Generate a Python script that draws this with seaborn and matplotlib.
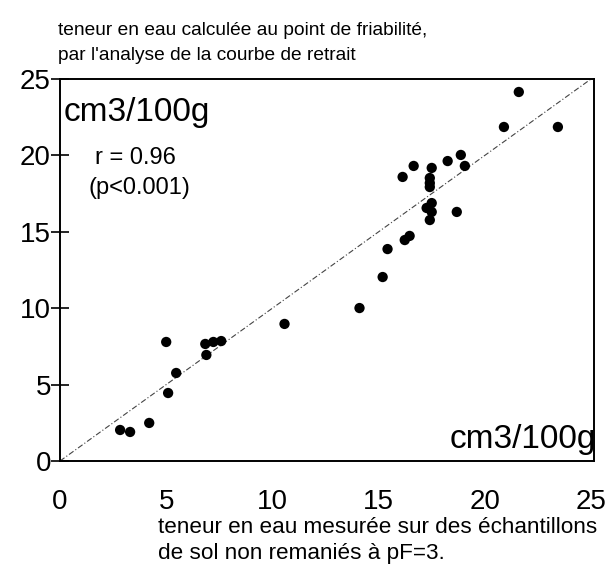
import matplotlib
matplotlib.use("Agg")
import matplotlib.pyplot as plt
import seaborn as sns
import pandas as pd

# measured water content at pF=3 (x) vs computed at friability point (y)
x_measured = [2.83, 3.30, 4.20, 5.09, 5.47, 5.00, 6.84, 7.22, 7.59, 6.89,
              10.57, 14.10, 15.19, 15.42, 16.23, 16.46, 17.41, 17.50, 17.26, 17.50,
              18.68, 16.13, 17.41, 17.41, 17.41, 16.65, 17.50, 19.06, 18.25, 18.87,
              20.90, 23.44, 21.60]
y_computed = [2.03, 1.90, 2.49, 4.45, 5.76, 7.79, 7.66, 7.79, 7.85, 6.94,
              8.97, 10.01, 12.04, 13.87, 14.46, 14.73, 15.77, 16.30, 16.56, 16.88,
              16.30, 18.59, 18.52, 18.19, 17.93, 19.31, 19.18, 19.31, 19.63, 20.03,
              21.86, 21.86, 24.15]
line_x = [0, 25]
line_y = [0, 25]
ticks = [0, 5, 10, 15, 20, 25]
tick_labels = ["0", "5", "10", "15", "20", "25"]

sns.set_theme(style="ticks")
plt.rcParams["font.family"] = ["Liberation Sans", "DejaVu Sans"]
plt.rcParams["text.color"] = "black"

W, H = 615, 565
fig = plt.figure(figsize=(W / 100, H / 100), dpi=100)
ax = fig.add_axes([60 / W, 1 - 461 / H, (594 - 60) / W, (461 - 79) / H])

df = pd.DataFrame({"x": x_measured, "y": y_computed})
sns.lineplot(x=line_x, y=line_y, ax=ax, color="#444444", linewidth=0.8,
             linestyle=(0, (5, 2, 1, 2)))
sns.scatterplot(data=df, x="x", y="y", ax=ax, color="black", s=55,
                edgecolor="none", zorder=3)

ax.set_xlim(0, 25.14)
ax.set_ylim(0, 25)
ax.set_xticks(ticks)
ax.set_xticklabels(tick_labels)
ax.set_yticks(ticks)
ax.set_yticklabels(tick_labels)
ax.set_xlabel("")
ax.set_ylabel("")
for sp in ax.spines.values():
    sp.set_visible(True)
    sp.set_linewidth(1.4)
    sp.set_color("black")
ax.tick_params(axis="y", direction="inout", length=13, width=1.2,
               labelsize=20, pad=0, colors="black", labelcolor="black")
ax.tick_params(axis="x", length=0, labelsize=20, pad=20, colors="black",
               labelcolor="black")

def ftxt(px, py, s, **kw):
    fig.text(px / W, 1 - py / H, s, color="black", **kw)

ftxt(58, 35, "teneur en eau calculée au point de friabilité,", fontsize=13.8,
     va="baseline", ha="left")
ftxt(58, 60, "par l'analyse de la courbe de retrait", fontsize=13.8,
     va="baseline", ha="left")
ftxt(64, 121, "cm3/100g", fontsize=24, va="baseline", ha="left")
ftxt(95, 158, "r = 0.96", fontsize=17, va="center", ha="left")
ftxt(89, 188, "(p<0.001)", fontsize=17, va="center", ha="left")
ftxt(596, 448, "cm3/100g", fontsize=24, va="baseline", ha="right")
ftxt(158, 533, "teneur en eau mesurée sur des échantillons", fontsize=16.2,
     va="baseline", ha="left")
ftxt(158, 559, "de sol non remaniés à pF=3.", fontsize=16.2,
     va="baseline", ha="left")

fig.savefig("out.png", dpi=100, facecolor="white")
